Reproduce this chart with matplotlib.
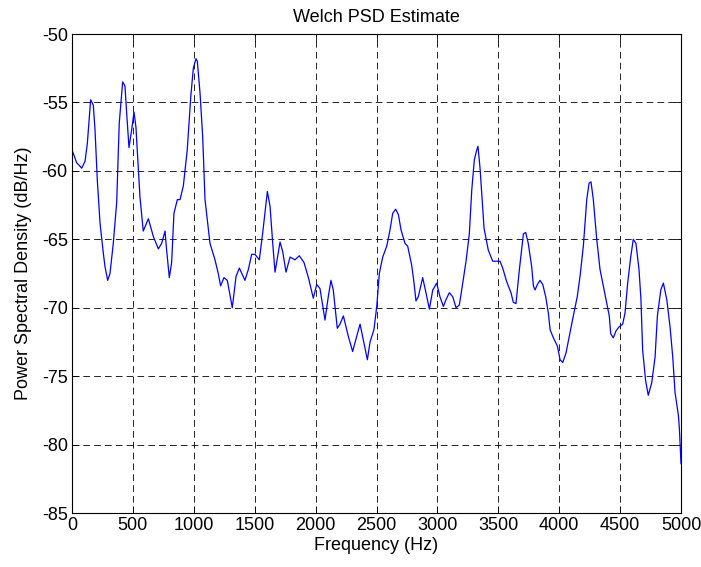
import matplotlib
matplotlib.use("Agg")
import matplotlib.pyplot as plt

plt.rcParams['font.family'] = ['Liberation Sans', 'DejaVu Sans']
plt.rcParams['axes.unicode_minus'] = False

# 周波数 (Hz) と PSD (dB/Hz) — 画像から読み取った値
freq = [0, 10, 38, 80, 107, 126, 153, 175, 189, 208, 230, 257, 271, 293, 312,
        339, 367, 388, 416, 435, 449, 468, 490, 509, 525, 558, 585, 627, 668,
        709, 736, 764, 777, 799, 818, 837, 865, 887, 914, 946, 975, 996, 1018,
        1029, 1051, 1073, 1092, 1133, 1174, 1201, 1220, 1248, 1275, 1316, 1347,
        1374, 1420, 1448, 1475, 1502, 1538, 1566, 1604, 1626, 1648, 1667, 1708,
        1730, 1757, 1790, 1831, 1866, 1905, 1941, 1981, 2009, 2036, 2077, 2104,
        2126, 2145, 2178, 2200, 2228, 2269, 2304, 2337, 2365, 2386, 2425, 2447,
        2479, 2502, 2523, 2551, 2584, 2611, 2633, 2657, 2680, 2701, 2734, 2756,
        2789, 2808, 2824, 2843, 2879, 2906, 2934, 2962, 2994, 3021, 3049, 3071,
        3098, 3126, 3153, 3180, 3208, 3235, 3262, 3282, 3303, 3322, 3333, 3350,
        3383, 3418, 3454, 3514, 3536, 3569, 3604, 3623, 3645, 3673, 3706, 3725,
        3746, 3774, 3788, 3801, 3821, 3842, 3865, 3889, 3911, 3925, 3952, 3985,
        4007, 4029, 4056, 4089, 4111, 4148, 4171, 4198, 4226, 4245, 4261, 4280,
        4308, 4335, 4362, 4395, 4411, 4423, 4444, 4466, 4491, 4521, 4540, 4562,
        4587, 4608, 4630, 4655, 4671, 4685, 4709, 4731, 4759, 4787, 4806, 4834,
        4855, 4883, 4910, 4932, 4951, 4979, 4987, 5000]
psd = [-58.5, -58.7, -59.4, -59.8, -59.3, -58.0, -54.8, -55.2, -57.0, -60.7,
       -63.8, -66.0, -67.0, -68.0, -67.5, -65.3, -62.3, -56.5, -53.5, -53.8,
       -55.8, -58.3, -57.0, -55.7, -56.8, -61.9, -64.4, -63.5, -64.8, -65.7,
       -65.3, -64.4, -65.8, -67.8, -66.7, -63.1, -62.1, -62.1, -61.1, -58.5,
       -54.6, -52.5, -51.8, -52.0, -54.3, -57.5, -62.1, -65.3, -66.5, -67.5,
       -68.4, -67.8, -68.0, -70.0, -67.7, -67.1, -68.0, -67.2, -66.1, -66.1,
       -66.5, -64.5, -61.5, -62.6, -65.3, -67.4, -65.2, -65.9, -67.4, -66.3,
       -66.5, -66.2, -66.7, -67.8, -69.3, -68.3, -68.6, -70.9, -69.2, -68.0,
       -68.7, -71.5, -71.2, -70.6, -72.1, -73.2, -72.1, -71.2, -72.1, -73.8,
       -72.5, -71.6, -69.9, -67.5, -66.3, -65.5, -64.3, -63.1, -62.8, -63.2,
       -64.3, -65.3, -65.5, -66.9, -68.2, -69.5, -69.2, -67.8, -68.9, -70.1,
       -68.7, -68.2, -69.2, -69.9, -69.4, -68.9, -69.2, -70.0, -69.8, -68.2,
       -66.6, -64.6, -61.4, -59.2, -58.5, -58.2, -59.8, -64.2, -65.8, -66.6,
       -66.6, -67.1, -68.1, -68.9, -69.6, -69.7, -67.2, -64.6, -64.5, -65.3,
       -67.0, -68.4, -68.7, -68.3, -68.0, -68.3, -69.2, -70.4, -71.6, -72.2,
       -72.8, -73.8, -74.0, -73.3, -71.8, -70.8, -69.2, -67.7, -65.5, -62.1,
       -60.9, -60.8, -62.1, -65.0, -67.2, -68.4, -69.9, -70.6, -71.9, -72.2,
       -71.7, -71.4, -71.2, -70.4, -68.2, -66.3, -65.0, -65.3, -67.2, -69.4,
       -73.1, -75.3, -76.4, -75.5, -73.6, -70.6, -68.7, -68.2, -69.4, -71.4,
       -73.6, -76.2, -77.9, -78.9, -81.4]

x_ticks = list(range(0, 5001, 500))
y_ticks = list(range(-85, -49, 5))

fig = plt.figure(figsize=(7.01, 5.67), dpi=100)
ax = fig.add_axes([0.1027, 0.0952, 0.8688, 0.8448])

ax.plot(freq, psd, color='#0000ff', linewidth=0.9)

ax.set_xlim(0, 5000)
ax.set_ylim(-85, -50)
ax.set_xticks(x_ticks)
ax.set_yticks(y_ticks)
ax.tick_params(direction='in', top=True, right=True, length=5, width=0.6,
               labelsize=13, pad=3)
for s in ax.spines.values():
    s.set_linewidth(0.8)

ax.grid(True, color='black', linestyle=(0, (8, 5)), linewidth=0.6)

ax.set_title('Welch PSD Estimate', fontsize=13, pad=9)
ax.set_xlabel('Frequency (Hz)', fontsize=13, labelpad=2)
ax.set_ylabel('Power Spectral Density (dB/Hz)', fontsize=13, labelpad=7)

fig.savefig('out.png', dpi=100)
plt.close(fig)
